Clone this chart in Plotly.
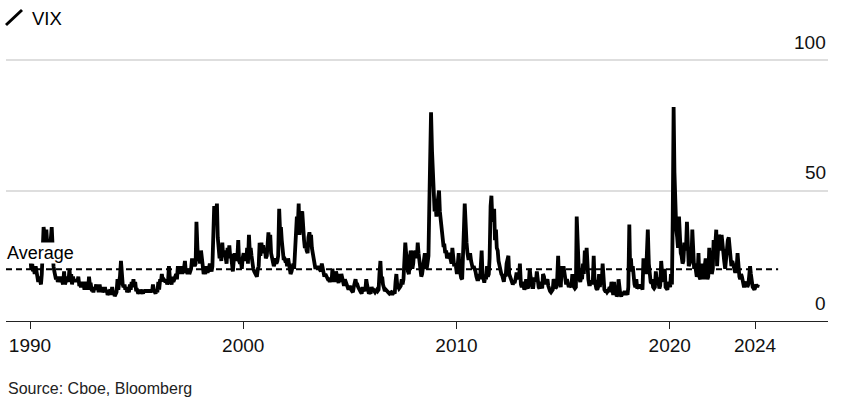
import pandas as pd
import plotly.graph_objects as go

# VIX, two readings per month (roughly mid-month / late-month)
vix_1990s = [
    24, 20, 22, 19, 20, 18, 21, 18, 17, 15, 17, 15, 14, 18, 30, 36, 33, 30, 35, 30, 30, 28, 29, 31,
    36, 22, 21, 19, 18, 16, 17, 15, 16, 15, 17, 15, 15, 14, 19, 14, 15, 16, 17, 15, 20, 16, 18, 14,
    17, 15, 16, 15, 16, 15, 17, 14, 14, 13, 15, 13, 14, 12, 15, 13, 14, 12, 17, 14, 14, 12, 12, 11,
    13, 12, 14, 12, 13, 11, 14, 12, 13, 11, 12, 11, 13, 11, 12, 10, 11, 12, 12, 10, 13, 11, 11, 9.5,
    10, 11, 16, 12, 15, 17, 23, 15, 14, 13, 14, 12, 13, 11, 12, 11, 14, 12, 15, 13, 16, 13, 15, 12,
    12, 11, 11, 10.5, 12, 11, 11, 10.5, 12, 11, 12, 11, 12, 11, 12, 11, 12, 11, 14, 12, 11, 10.5, 12, 11,
    15, 12, 16, 15, 18, 16, 16, 15, 15, 16, 14, 15, 21, 17, 15, 14, 17, 15, 16, 17, 18, 16, 21, 18,
    21, 19, 20, 18, 21, 20, 23, 19, 19, 18, 20, 18, 19, 20, 24, 22, 23, 21, 22, 38, 28, 23, 25, 22,
    27, 22, 21, 18, 19, 18, 21, 19, 19, 20, 22, 20, 19, 21, 30, 44, 38, 41, 45, 32, 27, 24, 26, 23,
    30, 25, 27, 24, 24, 22, 28, 24, 29, 25, 25, 22, 19, 23, 26, 23, 25, 24, 31, 23, 22, 23, 20, 24,
]
vix_2000s = [
    26, 23, 25, 23, 28, 22, 33, 27, 28, 25, 21, 20, 19, 18, 18, 17, 20, 21, 30, 25, 30, 27, 29, 26,
    28, 24, 25, 28, 34, 28, 33, 26, 24, 23, 21, 22, 24, 22, 23, 25, 43, 35, 36, 31, 27, 24, 24, 23,
    23, 21, 24, 22, 20, 18, 19, 21, 22, 20, 26, 32, 40, 35, 45, 33, 38, 41, 42, 35, 31, 28, 29, 27,
    26, 32, 34, 31, 33, 28, 26, 23, 22, 20, 21, 20, 21, 20, 20, 19, 22, 20, 19, 17, 18, 17, 17, 16,
    16, 15, 16, 15, 20, 17, 17, 15, 19, 17, 15, 14.5, 18, 15, 18, 16, 14, 13.5, 16, 15, 13, 12.5, 12, 13,
    13, 12, 11.5, 11, 13, 14, 16, 14, 14, 13, 12, 11.5, 11, 10.5, 13, 12, 12, 11.5, 16, 14, 11, 10.5, 11, 10.5,
    13, 12, 12, 11.5, 11, 11.5, 12, 11.5, 12, 18, 23, 16, 17, 14, 12, 11.5, 12, 11.5, 11, 10.8, 10.5, 10.8, 11, 10.5,
    10.5, 11, 10.5, 15, 18, 14, 13, 12.5, 13, 13.5, 16, 14, 16, 22, 30, 26, 24, 19, 18, 22, 27, 24, 20, 22,
    27, 25, 27, 24, 30, 26, 22, 20, 17, 18, 21, 24, 26, 22, 20, 22, 25, 44, 60, 80, 65, 55, 52, 42,
    45, 40, 45, 47, 50, 42, 38, 36, 31, 29, 29, 26, 27, 24, 25, 26, 25, 24, 22, 28, 24, 21, 22, 21,
]
vix_2010s = [
    18, 24, 26, 20, 17, 16.5, 16, 22, 35, 45, 34, 30, 26, 24, 24, 26, 23, 22, 20, 21, 20, 19, 17, 16,
    16, 18, 16, 20, 27, 18, 15, 14.7, 17, 16, 21, 17, 18, 24, 44, 48, 38, 41, 43, 31, 35, 28, 27, 23,
    21, 19, 18, 17.5, 16, 15, 18, 17, 22, 23, 25, 18, 17, 16, 15, 14, 15, 14.5, 16, 18, 18, 16, 17, 22,
    14, 13, 15, 13, 12, 13, 16, 13, 12.5, 14, 20, 17, 14, 13, 13, 16, 16, 15, 19, 14, 13, 12.5, 15, 13.5,
    12.5, 18, 17, 14, 16, 15, 16, 13.5, 12, 11.5, 11, 11.5, 12, 16, 15, 12.5, 13, 16, 25, 16, 13.5, 13, 21, 17,
    21, 19, 17, 14, 16, 15, 13, 14, 13, 13, 18, 15, 13, 12.5, 13, 40, 24, 22, 16, 15, 17, 16, 22, 18,
    27, 22, 28, 20, 16, 14, 14, 15, 15, 14, 25, 16, 13, 12.5, 12, 13, 18, 13, 17, 14, 22, 14, 12, 11.5,
    11.5, 11, 11.5, 12, 13, 11, 15, 10.8, 10, 15, 10.5, 11, 9.5, 10, 16, 12, 10, 9.5, 10, 11, 10, 11.5, 10, 11,
    10, 13, 37, 20, 24, 19, 21, 16, 14, 13, 16, 13, 13, 12.5, 14, 12.5, 13, 12, 24, 21, 20, 18, 25, 35,
    22, 18, 15, 14.5, 16, 13, 12.5, 13, 19, 16, 16, 15, 12.5, 13.5, 23, 19, 15, 16, 20, 13, 12.5, 12, 15, 13.5,
]
vix_2020s = [
    13, 18, 14, 40, 82, 57, 42, 35, 32, 28, 40, 30, 26, 25, 22, 23, 30, 27, 29, 38, 24, 21, 22, 23,
    24, 35, 28, 20, 22, 20, 17, 18, 26, 17, 16, 20, 22, 18, 16, 21, 24, 21, 16, 17, 28, 20, 27, 18,
    20, 31, 28, 30, 35, 21, 27, 33, 32, 27, 33, 28, 26, 23, 20, 25, 28, 31, 32, 29, 24, 21, 23, 22,
    21, 19, 19, 21, 26, 19, 17, 16, 18, 17, 14, 13.5, 13.5, 14, 15, 13, 14, 17, 21, 18, 14, 13, 12.5, 12,
    13, 14, 13, 14,
]
decades = {1990: vix_1990s, 2000: vix_2000s, 2010: vix_2010s, 2020: vix_2020s}

vix_average = 19.8
average_span = ["1988-11-16", "2025-01-31"]

tick_years = ["1990", "2000", "2010", "2020", "2024"]
y_ticks = [0, 50, 100]
source_text = "Source: Cboe, Bloomberg"

FONT = "Liberation Sans, Arial, Helvetica, sans-serif"
W, H = 859, 413
M = dict(l=6, r=31, t=59, b=92)


def _px_x(px):
    return (px - M["l"]) / (W - M["l"] - M["r"])


def _px_y(py):
    return (H - M["b"] - py) / (H - M["t"] - M["b"])


dates, values = [], []
for start, vals in decades.items():
    for i, v in enumerate(vals):
        yr = start + i // 24
        mo = (i % 24) // 2 + 1
        day = 8 if i % 2 == 0 else 22
        dates.append(pd.Timestamp(yr, mo, day))
        values.append(v)

fig = go.Figure()
fig.add_trace(go.Scatter(
    x=average_span, y=[vix_average] * 2, mode="lines",
    line=dict(color="#000", width=2, dash="6px,4px"), hoverinfo="skip",
))
fig.add_trace(go.Scatter(
    x=dates, y=values, mode="lines", line=dict(color="#000", width=3.8),
))

fig.update_layout(
    width=W, height=H, margin=M, showlegend=False,
    paper_bgcolor="white", plot_bgcolor="white",
    font=dict(family=FONT, color="#000", size=19),
)
fig.update_xaxes(
    type="date", range=["1988-11-16", "2027-06-04"],
    tickvals=[f"{y}-01-01" for y in tick_years], ticktext=tick_years,
    ticks="outside", ticklen=7, tickwidth=1, tickcolor="#222",
    showline=True, linecolor="#222", linewidth=1, showgrid=False, zeroline=False,
    tickfont=dict(size=19, color="#111"),
)
# range runs a hair past 100 so the top gridline is not lost on the plot edge
fig.update_yaxes(
    range=[0, 100.4], tickvals=y_ticks, showticklabels=False,
    showgrid=True, gridcolor="#dedede", gridwidth=1.6, zeroline=False,
)

for v in y_ticks:
    fig.add_annotation(x=1, xref="paper", xanchor="right", y=v, yref="y", yanchor="middle",
                       yshift=18, text=str(v), showarrow=False,
                       font=dict(size=19, color="#111"))

fig.add_annotation(x=0, xref="paper", xanchor="left", y=vix_average, yref="y",
                   yanchor="middle", yshift=16, text="Average", showarrow=False,
                   bgcolor="white", borderpad=0, font=dict(size=18, color="#000"))

# header: diagonal line icon + series name
fig.add_shape(type="line", xref="paper", yref="paper",
              x0=_px_x(6), y0=_px_y(25), x1=_px_x(22), y1=_px_y(10),
              line=dict(color="#000", width=3))
fig.add_annotation(x=_px_x(30), xref="paper", xanchor="left", y=_px_y(18), yref="paper",
                   yanchor="middle", text="VIX", showarrow=False,
                   font=dict(size=18.5, color="#000"))
fig.add_annotation(x=_px_x(6), xref="paper", xanchor="left", y=_px_y(388), yref="paper",
                   yanchor="middle", text=source_text, showarrow=False,
                   font=dict(size=16, color="#222"))

# drop the browser's default 8px body margin so the figure sits at the window origin
fig.write_html("out.html", config={"displayModeBar": False},
               post_script="document.body.style.margin='0';")
